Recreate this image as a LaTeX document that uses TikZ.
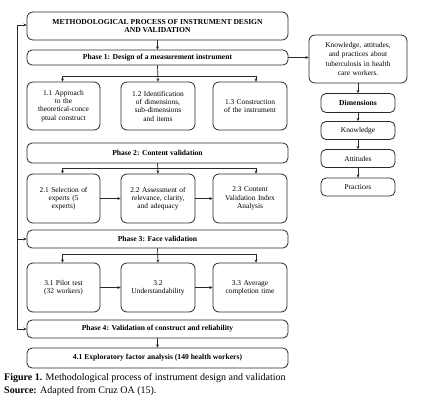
\documentclass[tikz,border=0pt]{standalone}
\usepackage{fontspec}
\setmainfont{Liberation Serif}
\usetikzlibrary{arrows.meta,calc}
\definecolor{ln}{HTML}{2A2A2A}
\tikzset{
  box/.style={draw=ln, line width=0.8pt, rounded corners=6pt, align=center, inner sep=1pt,
    font=\fontsize{7.4}{8.3}\selectfont, text=black},
  phase/.style={box, rounded corners=5pt, font=\fontsize{7.6}{8.5}\selectfont\bfseries},
  arr/.style={draw=ln, line width=0.7pt, -{Stealth[length=3.2pt,width=3pt]}},
  captext/.style={anchor=west, inner sep=0pt, font=\fontsize{10}{12}\selectfont}
}
\begin{document}
\begin{tikzpicture}[x=1pt,y=-1pt]
\useasboundingbox (0,0) rectangle (434,400);
% main column
\node[phase, minimum width=261pt, minimum height=28pt, rounded corners=6pt] (t) at (157.5,26)
  {METHODOLOGICAL PROCESS OF INSTRUMENT DESIGN\\AND VALIDATION};
\node[phase, minimum width=261pt, minimum height=15pt] (p1) at (157.5,57.5) {Phase 1: Design of a measurement instrument};
\node[box, minimum width=73pt, minimum height=48pt, text width=70pt] (b11) at (63.5,106)
  {1.1 Approach\\to the\\theoretical-conce\\ptual construct};
\node[box, minimum width=74pt, minimum height=48pt, text width=70pt] (b12) at (158,106)
  {1.2 Identification\\of dimensions,\\sub-dimensions\\and items};
\node[box, minimum width=74pt, minimum height=48pt, text width=70pt] (b13) at (250,106)
  {1.3 Construction\\of the instrument};
\node[phase, minimum width=261pt, minimum height=20pt] (p2) at (157.5,153) {Phase 2: Content validation};
\node[box, minimum width=73pt, minimum height=49pt, text width=70pt] (b21) at (63.5,198.5)
  {2.1 Selection of\\experts (5\\experts)};
\node[box, minimum width=74pt, minimum height=49pt, text width=70pt] (b22) at (158,198.5)
  {2.2 Assessment of\\relevance, clarity,\\and adequacy};
\node[box, minimum width=74pt, minimum height=49pt, text width=70pt] (b23) at (250,198.5)
  {2.3 Content\\Validation Index\\Analysis};
\node[phase, minimum width=261pt, minimum height=18pt] (p3) at (157.5,239) {Phase 3: Face validation};
\node[box, minimum width=73pt, minimum height=49pt, text width=70pt] (b31) at (63.5,287.5)
  {3.1 Pilot test\\(32 workers)};
\node[box, minimum width=74pt, minimum height=49pt, text width=70pt] (b32) at (158,287.5)
  {3.2\\Understandability};
\node[box, minimum width=74pt, minimum height=49pt, text width=70pt] (b33) at (250,287.5)
  {3.3 Average\\completion time};
\node[phase, minimum width=261pt, minimum height=18pt] (p4) at (157.5,329) {Phase 4: Validation of construct and reliability};
\node[phase, minimum width=261pt, minimum height=20pt] (p41) at (157.5,358) {4.1 Exploratory factor analysis (140 health workers)};
% right column
\node[box, minimum width=98pt, minimum height=48pt, text width=94pt,
  font=\fontsize{7.4}{9.3}\selectfont] (rb) at (358,59)
  {Knowledge, attitudes,\\and practices about\\tuberculosis in health\\care workers.};
\node[box, rounded corners=5pt, minimum width=74pt, minimum height=19pt, font=\fontsize{7.6}{8.5}\selectfont\bfseries] (dim) at (358,103) {Dimensions};
\node[box, rounded corners=5pt, minimum width=74pt, minimum height=18pt] (kn) at (358,130.5) {Knowledge};
\node[box, rounded corners=5pt, minimum width=74pt, minimum height=18pt] (at) at (358,158.5) {Attitudes};
\node[box, rounded corners=5pt, minimum width=74pt, minimum height=18pt] (pr) at (358,187) {Practices};
% connectors main
\draw[arr] (t.south) -- (p1.north);
\coordinate (j1) at ($(p1.south)+(0,11)$);
\draw[arr] (p1.south) -- (b12.north);
\draw[arr] (j1) -| ([xshift=-1pt]b11.north);
\draw[arr] (j1) -| ([xshift=6pt]b13.north);
\coordinate (j2) at ($(p2.south)+(0,5)$);
\draw[arr] (p2.south) -- (b22.north);
\draw[arr] (j2) -| ([xshift=-1pt]b21.north);
\draw[arr] (j2) -| ([xshift=6pt]b23.north);
\coordinate (j3) at ($(p3.south)+(0,6)$);
\draw[arr] (p3.south) -- (b32.north);
\draw[arr] (j3) -| ([xshift=-1pt]b31.north);
\draw[arr] (j3) -| ([xshift=6pt]b33.north);
\draw[arr] (b21) -- (b22);
\draw[arr] (b22) -- (b23);
\draw[arr] (b31) -- (b32);
\draw[arr] (b32) -- (b33);
\draw[arr] (p4.south) -- (p41.north);
% left feedback line
\coordinate (lt) at (17,25);
\coordinate (lb) at (17,329);
\draw[arr] (lb) -- (lt) -- (lt -| t.west);
\draw[arr] (lt |- p4.west) -- (p4.west);
\draw[arr] (lt |- p3.west) -- (p3.west);
% right connectors
\draw[arr] (p1.east) -- (p1.east -| rb.west);
\draw[arr] (rb.south) -- (dim.north);
\draw[arr] (dim.south) -- (kn.north);
\draw[arr] (kn.south) -- (at.north);
\draw[arr] (at.south) -- (pr.north);
% caption
\node[captext] (c1) at (4,378) {\textbf{Figure 1.} Methodological process of instrument design and validation};
\node[captext] (c2) at (4,391.5) {\textbf{Source:} Adapted from Cruz OA (15).};
\end{tikzpicture}
\end{document}
